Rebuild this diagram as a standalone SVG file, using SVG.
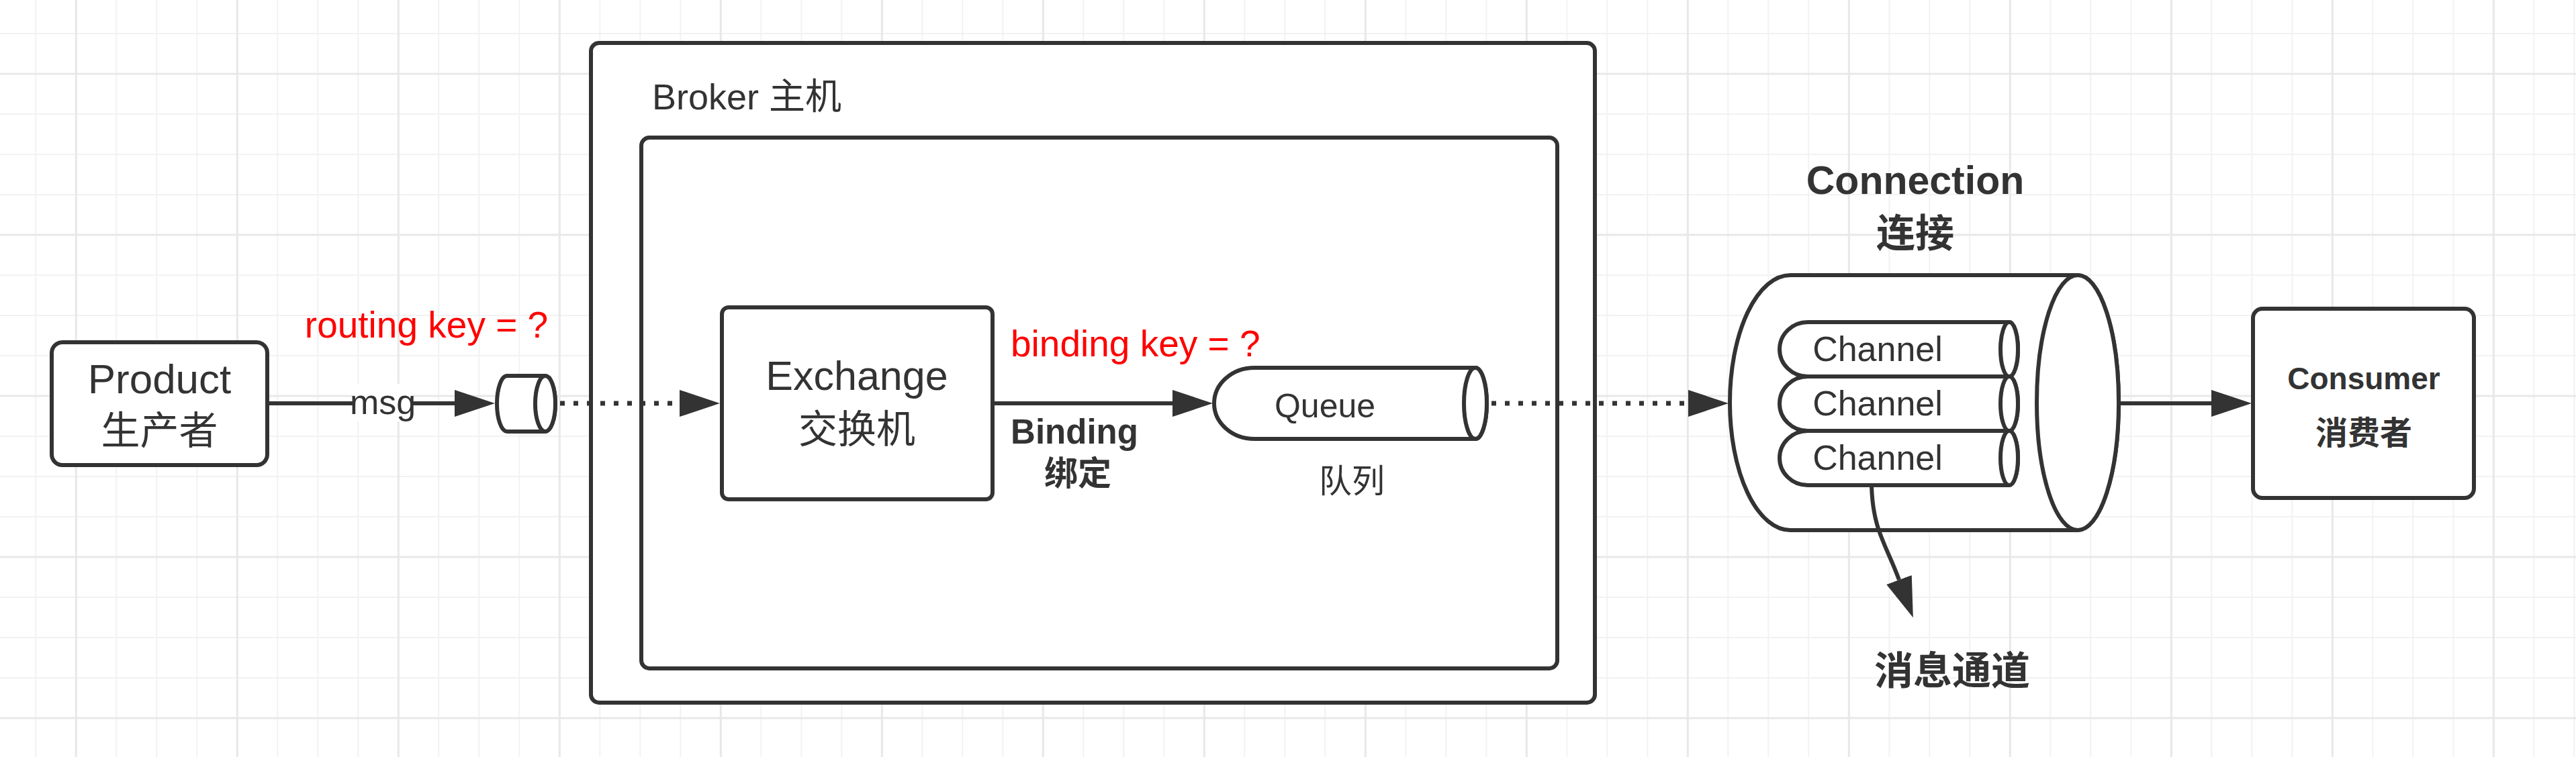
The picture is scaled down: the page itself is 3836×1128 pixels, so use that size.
<svg xmlns="http://www.w3.org/2000/svg" width="3836" height="1128" viewBox="0 0 3836 1128">
<style>
.box{fill:#fff;stroke:#333;stroke-width:6}
.ln{fill:none;stroke:#333;stroke-width:6}
.dot{fill:none;stroke:#333;stroke-width:7;stroke-dasharray:7 13}
.t{font-family:"Liberation Sans","Noto Sans CJK SC",sans-serif;fill:#333;text-anchor:middle}
.b{font-weight:bold}
.red{fill:#ff0000}
</style>
<defs>
<pattern id="gMinor" width="60" height="60" patternUnits="userSpaceOnUse" x="52.3" y="49">
<rect x="0" y="0" width="60" height="2" fill="#f2f2f2"/><rect x="0" y="0" width="2" height="60" fill="#f2f2f2"/>
</pattern>
<pattern id="gMajor" width="240" height="240" patternUnits="userSpaceOnUse" x="111.8" y="108.5">
<rect x="0" y="0" width="240" height="3" fill="#e8e8e8"/><rect x="0" y="0" width="3" height="240" fill="#e8e8e8"/>
</pattern>
<marker id="ah" viewBox="0 0 60 40" refX="0" refY="20" markerWidth="60" markerHeight="40" markerUnits="userSpaceOnUse" orient="auto">
<path d="M0 0L60 20L0 40z" fill="#333"/>
</marker>
</defs>
<rect width="3836" height="1128" fill="#fff"/>
<rect width="3836" height="1128" fill="url(#gMinor)"/>
<rect width="3836" height="1128" fill="url(#gMajor)"/>

<g id="broker">
<rect class="box" x="880" y="64" width="1495" height="983" rx="12"/>
<text class="t" x="971" y="163" font-size="54" style="text-anchor:start">Broker 主机</text>
</g>
<g id="broker-inner">
<rect class="box" x="955" y="205" width="1364" height="791" rx="12"/>
</g>

<g id="product">
<rect class="box" x="77" y="510" width="321" height="183" rx="16"/>
<text class="t" x="237.5" y="586" font-size="62">Product</text>
<text class="t" x="237.5" y="662" font-size="58">生产者</text>
</g>

<g id="msg-cylinder">
<path class="box" d="M755 560L812 560A15 41.5 0 0 1 812 643L755 643A15 41.5 0 0 1 755 560Z"/>
<ellipse class="box" cx="812" cy="601.5" rx="15" ry="41.5"/>
</g>

<g id="exchange">
<rect class="box" x="1075" y="458" width="403" height="286" rx="10"/>
<text class="t" x="1276" y="581" font-size="61">Exchange</text>
<text class="t" x="1276" y="660" font-size="58">交换机</text>
</g>

<g id="queue">
<path class="box" d="M1868 548L2197 548A17 53 0 0 1 2197 654L1868 654A60 53 0 0 1 1868 548Z"/>
<ellipse class="box" cx="2197" cy="601" rx="17" ry="53"/>
<text class="t" x="1973" y="622" font-size="50">Queue</text>
<text class="t" x="2013" y="734" font-size="49">队列</text>
</g>

<g id="connection">
<text class="t b" x="2852" y="289" font-size="59">Connection</text>
<text class="t b" x="2852" y="368" font-size="58">连接</text>
<path class="box" d="M2666 410L3094 410A61 190 0 0 1 3094 790L2666 790A90 190 0 0 1 2666 410Z"/>
<ellipse class="box" cx="3094" cy="600" rx="61" ry="190"/>
</g>

<g id="channel-1">
<path class="box" d="M2692 480L2992 480A13 40.5 0 0 1 2992 561L2692 561A42 40.5 0 0 1 2692 480Z"/>
<ellipse class="box" cx="2992" cy="520.5" rx="13" ry="40.5"/>
<text class="t" x="2796" y="538" font-size="52">Channel</text>
</g>
<g id="channel-2">
<path class="box" d="M2692 561L2992 561A13 40.5 0 0 1 2992 642L2692 642A42 40.5 0 0 1 2692 561Z"/>
<ellipse class="box" cx="2992" cy="601.5" rx="13" ry="40.5"/>
<text class="t" x="2796" y="619" font-size="52">Channel</text>
</g>
<g id="channel-3">
<path class="box" d="M2692 642L2992 642A13 40.5 0 0 1 2992 723L2692 723A42 40.5 0 0 1 2692 642Z"/>
<ellipse class="box" cx="2992" cy="682.5" rx="13" ry="40.5"/>
<text class="t" x="2796" y="700" font-size="52">Channel</text>
</g>

<g id="consumer">
<rect class="box" x="3355" y="460" width="329" height="282" rx="14"/>
<text class="t b" x="3520" y="580" font-size="46">Consumer</text>
<text class="t b" x="3520" y="662" font-size="48">消费者</text>
</g>

<g id="msg-channel-label">
<text class="t b" x="2907" y="1020" font-size="58">消息通道</text>
</g>

<g id="connectors">
<path class="ln" d="M398 601H677" marker-end="url(#ah)"/>
<rect x="527" y="572" width="86" height="56" fill="#fff"/>
<text class="t" x="570" y="617" font-size="52">msg</text>
<text class="t red" x="635" y="503" font-size="55">routing key = ?</text>
<path class="dot" d="M834 601H1012" marker-end="url(#ah)"/>
<path class="ln" d="M1478 601H1746" marker-end="url(#ah)"/>
<text class="t red" x="1505" y="531" font-size="55" style="text-anchor:start">binding key = ?</text>
<text class="t b" x="1600" y="661" font-size="51">Binding</text>
<text class="t b" x="1605" y="723" font-size="50">绑定</text>
<path class="dot" d="M2221 601H2514" marker-end="url(#ah)"/>
<path class="ln" d="M3156 601H3293" marker-end="url(#ah)"/>
<path class="ln" d="M2787 724C2789 790 2808 810 2828 864" marker-end="url(#ah)"/>
</g>
</svg>
